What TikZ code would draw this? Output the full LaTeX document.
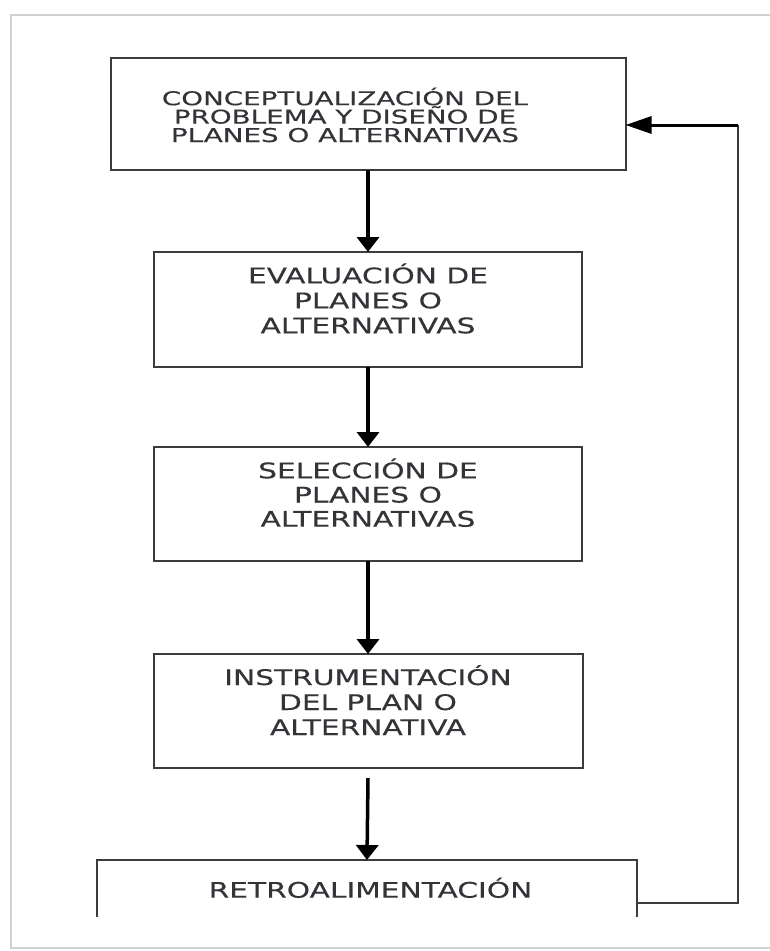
\documentclass[tikz,border=0pt]{standalone}
\usepackage{fontspec}
\newfontfamily\bxfont[FakeStretch=1.38,FakeBold=0.3]{DejaVu Sans}
\newfontfamily\bxwide[FakeStretch=1.46,FakeBold=0.3]{DejaVu Sans}
\usetikzlibrary{arrows.meta}
\newcommand\tightlines{\lineskiplimit=-50pt\relax}
\definecolor{txt}{HTML}{333338}
\definecolor{edge}{HTML}{3C3C3C}
\definecolor{frame}{HTML}{D2D2D2}
\begin{document}
\begin{tikzpicture}[x=1pt,y=-1pt,
  box/.style={draw=edge,line width=2pt,inner sep=0pt,outer sep=0pt},
  lbl/.style={text=txt,align=center,inner sep=0pt,anchor=base},
  flow/.style={line width=3.5pt,-{Triangle[width=22pt,length=15pt]}},
  back/.style={draw=edge,line width=1.8pt}]
\useasboundingbox (0,0) rectangle (769,951);
% outer frame
\draw[frame,line width=2pt] (780,15) -- (11,15) -- (11,948) -- (780,948);
% boxes
\node[box,minimum width=515pt,minimum height=112pt] (b1) at (368,114) {};
\node[box,minimum width=428pt,minimum height=115pt] (b2) at (368,309.5) {};
\node[box,minimum width=428pt,minimum height=114pt] (b3) at (368,504) {};
\node[box,minimum width=429pt,minimum height=114pt] (b4) at (368,711) {};
\node[inner sep=0pt,outer sep=0pt,minimum width=540pt,minimum height=57pt] (b5) at (367,888.5) {};
\draw[edge,line width=2pt] (b5.south west) -- (b5.north west) -- (b5.north east) -- (b5.south east);
% labels (anchor = baseline of last line)
\node[lbl,font=\bxwide\fontsize{19}{18.4}\selectfont\tightlines] (t1) at (345,142) {CONCEPTUALIZACIÓN DEL\\PROBLEMA Y DISEÑO DE\\PLANES O ALTERNATIVAS};
\node[lbl,font=\bxfont\fontsize{21.5}{25}\selectfont] (t2) at (368,333.3) {EVALUACIÓN DE\\PLANES O\\ALTERNATIVAS};
\node[lbl,font=\bxfont\fontsize{21.5}{24.2}\selectfont] (t3) at (368,526.7) {SELECCIÓN DE\\PLANES O\\ALTERNATIVAS};
\node[lbl,font=\bxfont\fontsize{21.5}{25}\selectfont] (t4) at (368,735) {INSTRUMENTACIÓN\\DEL PLAN O\\ALTERNATIVA};
\node[lbl,font=\bxfont\fontsize{21.5}{25}\selectfont] (t5) at (370.5,897.7) {RETROALIMENTACIÓN};
% flow arrows
\draw[flow] (b1.south) -- (b2.north);
\draw[flow] (b2.south) -- (b3.north);
\draw[flow] (b3.south) -- (b4.north);
\draw[flow] ([yshift=-10pt]b4.south) -- (b5.north);
% feedback loop
\coordinate (r1) at (738,903);
\coordinate (r2) at (738,125);
\draw[back] (b5.east |- r1) -- (r1) -- (r2);
\draw[line width=3pt,-{Triangle[width=17pt,length=26pt]}] (r2) -- (b1.east |- r2);
\end{tikzpicture}
\end{document}
